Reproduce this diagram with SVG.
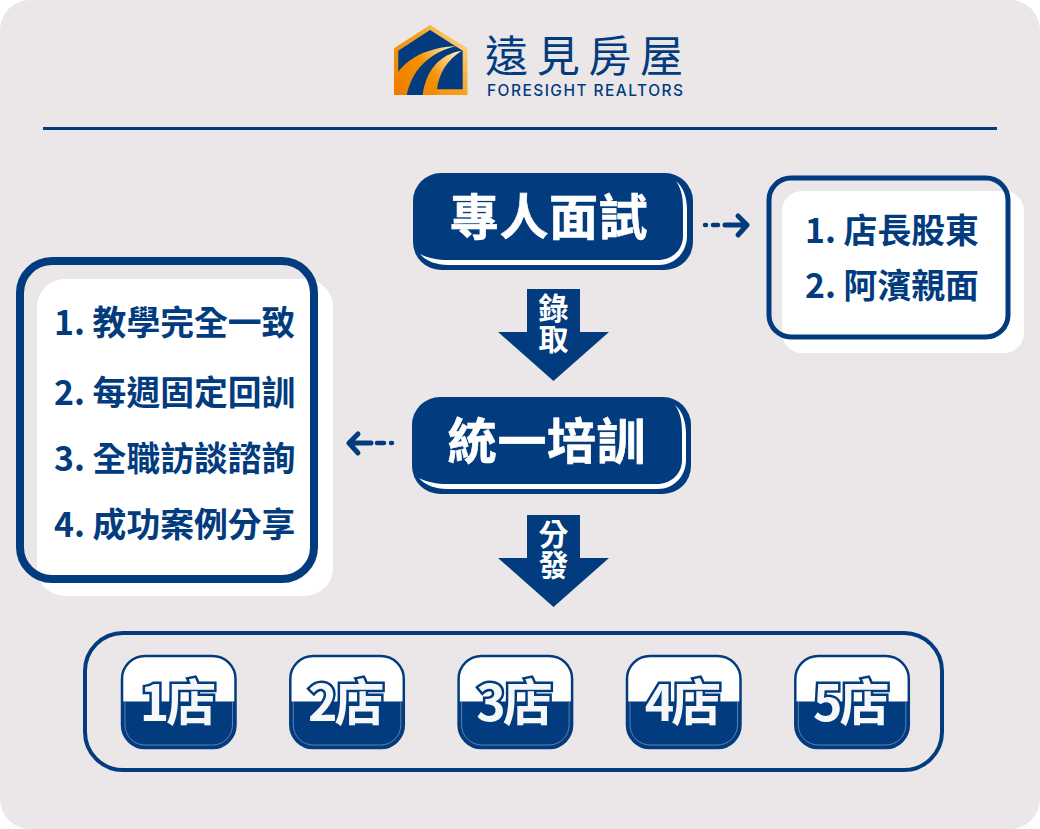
<svg xmlns="http://www.w3.org/2000/svg" width="1040" height="829" viewBox="0 0 1040 829">
<style>
.cjk{font-family:"Noto Sans CJK TC","Noto Sans CJK SC",sans-serif}
.navy{fill:#033c7e}
.title{font-size:49px;font-weight:700;fill:#fff;stroke:#fff;stroke-width:.6;text-anchor:middle;letter-spacing:.6px}
.item{font-size:33.800px;font-weight:700;fill:#033c7e}
.tag{font-size:30px;font-weight:700;fill:#fff;writing-mode:vertical-rl;letter-spacing:1px}
.store{font-size:50px;font-weight:700;fill:#f6f7f8;stroke:#033c7e;stroke-width:5;paint-order:stroke;text-anchor:middle;letter-spacing:-3px}
.dash{fill:none;stroke:#033c7e;stroke-width:4.500;stroke-linecap:round}
.head{fill:none;stroke:#033c7e;stroke-width:5;stroke-linecap:round;stroke-linejoin:round}
.sb{fill:#fff}
.shine{fill:#fff}
.rim{fill:none;stroke:#5f7fab;stroke-width:1}
</style>
<defs>
<linearGradient id="lg" gradientUnits="userSpaceOnUse" x1="394" y1="95" x2="468" y2="40"><stop offset="0" stop-color="#ef7d00"/><stop offset="0.6" stop-color="#f4a11e"/><stop offset="1" stop-color="#fdd78f"/></linearGradient>
<linearGradient id="ls" gradientUnits="userSpaceOnUse" x1="400" y1="95" x2="458" y2="46"><stop offset="0" stop-color="#ef7d00"/><stop offset="0.5" stop-color="#f39200"/><stop offset="1" stop-color="#fff6d8"/></linearGradient>
<clipPath id="c1"><rect x="120" y="701.500" width="118" height="49"/></clipPath>
</defs>
<rect width="1040" height="829" fill="#fff"/>
<rect width="1040" height="829" rx="30" fill="#ebe7e9"/>
<g id="logo">
<polygon points="394,48.300 430,25 467.500,48.300 467.500,95 394,95" fill="url(#lg)"/>
<polygon points="398.300,50.700 430,30 462.700,50.700 462.700,89.300 436.700,89.300 436.700,95 406.700,95 398.300,89.300" class="navy"/>
<path d="M398.300,71.700 C410,57 427,48 456,46 C434,52 414,64 406.700,95 L394,95 L394,76 Z" fill="url(#ls)"/>
<path d="M461.700,50.700 C440,54 426,70 422.700,95 L437,95 L437,89.300 C439,73 447,60 461.700,50.700 Z" fill="url(#ls)"/>
<text fill="#033c7e"><tspan x="485" y="72" class="cjk" font-size="43" font-weight="400" letter-spacing="8.700">遠見房屋</tspan><tspan x="487" y="96" font-family="Inter,sans-serif" font-size="15.500" font-weight="500" textLength="196" lengthAdjust="spacing">FORESIGHT REALTORS</tspan></text>
</g>
<rect id="divider" x="43" y="127" width="954" height="3" class="navy"/>
<g id="node-interview">
<rect x="413" y="173" width="280" height="97" rx="28" class="navy"/>
<path class="shine" d="M676,181 C684,188 687,198 687,210 L687,236 C687,252 675,265 659,265 L448,265 C436,265 426,261 420,254 C428,258 438,260 448,260 L658,260 C672,260 683,250 683,236 L683,210 C683,198 682,190 676,181 Z"/>
<text x="549" y="235" class="cjk title">專人面試</text>
</g>
<g id="node-interview-list">
<rect x="782" y="191" width="242" height="162" rx="20" class="sb"/>
<rect x="769" y="178" width="239" height="159" rx="22" fill="none" stroke="#033c7e" stroke-width="5"/>
<text x="805" y="243" class="cjk item">1. 店長股東</text>
<text x="805" y="298" class="cjk item">2. 阿濱親面</text>
</g>
<g id="node-training">
<rect x="412" y="397" width="279" height="97" rx="28" class="navy"/>
<path class="shine" transform="translate(-1 224)" d="M676,181 C684,188 687,198 687,210 L687,236 C687,252 675,265 659,265 L448,265 C436,265 426,261 420,254 C428,258 438,260 448,260 L658,260 C672,260 683,250 683,236 L683,210 C683,198 682,190 676,181 Z"/>
<text x="547" y="459" class="cjk title">統一培訓</text>
</g>
<g id="node-training-list">
<rect x="37" y="279" width="296" height="317" rx="28" class="sb"/>
<rect x="20" y="261" width="294" height="318" rx="32" fill="none" stroke="#033c7e" stroke-width="8"/>
<text x="54" y="335" class="cjk item">1. 教學完全一致</text>
<text x="54" y="405" class="cjk item">2. 每週固定回訓</text>
<text x="54" y="471" class="cjk item">3. 全職訪談諮詢</text>
<text x="54" y="537" class="cjk item">4. 成功案例分享</text>
</g>
<g id="connectors">
<path class="dash" d="M705,225 L706,225 M713,225 L718,225"/>
<path class="head" d="M725,225 L747,225 M738,216 L747,225 L738,235"/>
<path class="dash" d="M391,443 L392,443 M377,443 L384,443"/>
<path class="head" d="M371,443 L349,443 M358,434 L349,443 L358,453"/>
<polygon points="527,289 580,289 580,332 609,332 553.500,381 498,332 527,332" class="navy"/>
<text x="553.500" y="293" class="cjk tag">錄取</text>
<polygon points="527,515 580,515 580,558 609,558 553.500,607 498,558 527,558" class="navy"/>
<text x="553.500" y="519" class="cjk tag">分發</text>
</g>
<g id="node-stores">
<rect x="85" y="633" width="857" height="137" rx="38" fill="none" stroke="#033c7e" stroke-width="4"/>
</g>
<g id="store-1">
<rect x="122" y="656" width="113.500" height="92" rx="23" fill="#fff" stroke="#033c7e" stroke-width="2.500"/>
<rect x="122" y="656" width="113.500" height="92" rx="23" class="navy" clip-path="url(#c1)"/>
<rect x="125" y="659" width="107.500" height="86" rx="20" class="rim" clip-path="url(#c1)"/>
<text x="176.500" y="721" class="cjk store">1店</text>
</g>
<g id="store-2" transform="translate(168.300 0)">
<rect x="122" y="656" width="113.500" height="92" rx="23" fill="#fff" stroke="#033c7e" stroke-width="2.500"/>
<rect x="122" y="656" width="113.500" height="92" rx="23" class="navy" clip-path="url(#c1)"/>
<rect x="125" y="659" width="107.500" height="86" rx="20" class="rim" clip-path="url(#c1)"/>
<text x="176.500" y="721" class="cjk store">2店</text>
</g>
<g id="store-3" transform="translate(336.600 0)">
<rect x="122" y="656" width="113.500" height="92" rx="23" fill="#fff" stroke="#033c7e" stroke-width="2.500"/>
<rect x="122" y="656" width="113.500" height="92" rx="23" class="navy" clip-path="url(#c1)"/>
<rect x="125" y="659" width="107.500" height="86" rx="20" class="rim" clip-path="url(#c1)"/>
<text x="176.500" y="721" class="cjk store">3店</text>
</g>
<g id="store-4" transform="translate(505 0)">
<rect x="122" y="656" width="113.500" height="92" rx="23" fill="#fff" stroke="#033c7e" stroke-width="2.500"/>
<rect x="122" y="656" width="113.500" height="92" rx="23" class="navy" clip-path="url(#c1)"/>
<rect x="125" y="659" width="107.500" height="86" rx="20" class="rim" clip-path="url(#c1)"/>
<text x="176.500" y="721" class="cjk store">4店</text>
</g>
<g id="store-5" transform="translate(673.300 0)">
<rect x="122" y="656" width="113.500" height="92" rx="23" fill="#fff" stroke="#033c7e" stroke-width="2.500"/>
<rect x="122" y="656" width="113.500" height="92" rx="23" class="navy" clip-path="url(#c1)"/>
<rect x="125" y="659" width="107.500" height="86" rx="20" class="rim" clip-path="url(#c1)"/>
<text x="176.500" y="721" class="cjk store">5店</text>
</g>
</svg>
